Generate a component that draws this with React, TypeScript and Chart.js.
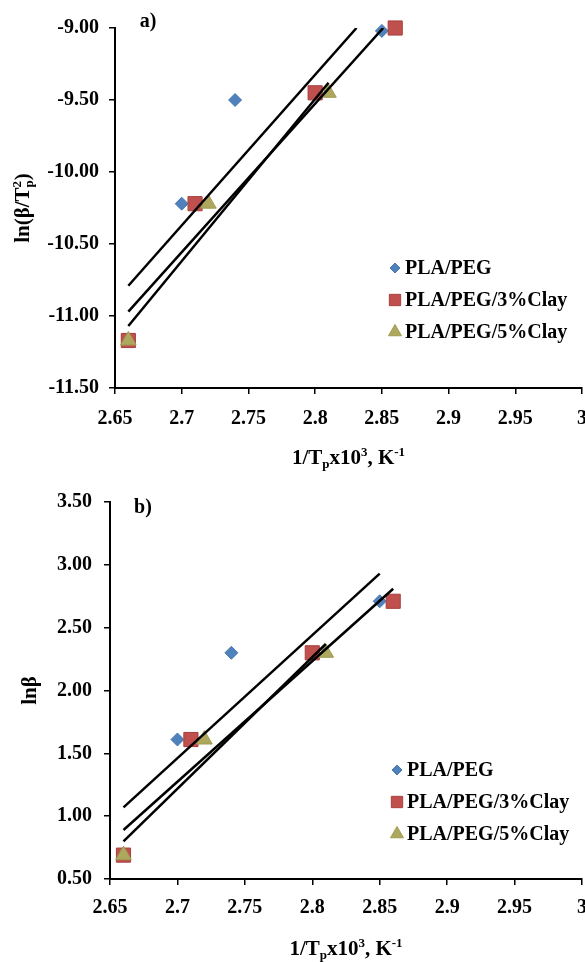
import React, { useEffect, useRef } from 'react';
import { Chart, registerables } from 'chart.js';
import { drawPoint } from 'chart.js/helpers';

Chart.register(...registerables);

const FONT = "'Liberation Serif', 'Times New Roman', serif";

const seriesNames = ['PLA/PEG', 'PLA/PEG/3%Clay', 'PLA/PEG/5%Clay'];
const seriesColors = ['#4F81BD', '#C0504D', '#ADA85D'];
const seriesBorders = ['#4A78AE', '#A5403D', '#A09B50'];
const seriesStyles = ['rectRot', 'rect', 'triangle'];

// 1/Tp x10^3 values
const xPEG = [2.66, 2.70, 2.74, 2.85];
const x3Clay = [2.66, 2.71, 2.80, 2.86];
const x5Clay = [2.66, 2.72, 2.81];

// panel a) ln(beta/Tp^2)
const aPEG = [-11.17, -10.22, -9.50, -9.02];
const a3Clay = [-11.17, -10.22, -9.45, -9.00];
const a5Clay = [-11.17, -10.22, -9.45];

// panel b) ln(beta)
const bPEG = [0.69, 1.61, 2.30, 2.71];
const b3Clay = [0.69, 1.61, 2.30, 2.71];
const b5Clay = [0.69, 1.61, 2.30];

// trend line end points [x, y]
const aTrendPEG = [[2.66, -10.79], [2.831, -9.0]];
const aTrend3Clay = [[2.66, -10.97], [2.851, -9.0]];
const aTrend5Clay = [[2.66, -11.07], [2.81, -9.38]];
const bTrendPEG = [[2.66, 1.07], [2.85, 2.93]];
const bTrend3Clay = [[2.66, 0.89], [2.86, 2.81]];
const bTrend5Clay = [[2.66, 0.80], [2.81, 2.37]];

// axis ticks
const xTicks = [2.65, 2.7, 2.75, 2.8, 2.85, 2.9, 2.95, 3];
const xTickLabels = ['2.65', '2.7', '2.75', '2.8', '2.85', '2.9', '2.95', '3'];
const aYTicks = [-11.5, -11.0, -10.5, -10.0, -9.5, -9.0];
const aYTickLabels = ['-11.50', '-11.00', '-10.50', '-10.00', '-9.50', '-9.00'];
const bYTicks = [0.5, 1.0, 1.5, 2.0, 2.5, 3.0, 3.5];
const bYTickLabels = ['0.50', '1.00', '1.50', '2.00', '2.50', '3.00', '3.50'];

type Seg = { t: string; s?: 'sub' | 'sup'; stack?: boolean };

const xTitle: Seg[] = [
  { t: '1/T' }, { t: 'p', s: 'sub' }, { t: 'x10' }, { t: '3', s: 'sup' }, { t: ', K' }, { t: '-1', s: 'sup' },
];
const aYTitle: Seg[] = [{ t: 'ln(β/T' }, { t: 'p', s: 'sub' }, { t: '2', s: 'sup', stack: true }, { t: ')' }];
const bYTitle: Seg[] = [{ t: 'lnβ' }];

function drawRich(ctx: CanvasRenderingContext2D, segs: Seg[], cx: number, cy: number, size: number, rotate: boolean) {
  ctx.save();
  ctx.translate(cx, cy);
  if (rotate) ctx.rotate(-Math.PI / 2);
  const small = Math.round(size * 0.64);
  const items: { t: string; x: number; y: number; f: number }[] = [];
  let cursor = 0;
  let prevStart = 0;
  for (const seg of segs) {
    const f = seg.s ? small : size;
    ctx.font = `bold ${f}px ${FONT}`;
    const w = ctx.measureText(seg.t).width;
    let x = cursor;
    if (seg.stack) {
      x = prevStart;
      cursor = Math.max(cursor, prevStart + w);
    } else {
      cursor += w;
    }
    prevStart = x;
    const base = size * 0.34;
    const y = seg.s === 'sub' ? base + size * 0.2 : seg.s === 'sup' ? base - size * 0.4 : base;
    items.push({ t: seg.t, x, y, f });
  }
  const off = -cursor / 2;
  ctx.fillStyle = '#000';
  ctx.textBaseline = 'alphabetic';
  ctx.textAlign = 'left';
  for (const it of items) {
    ctx.font = `bold ${it.f}px ${FONT}`;
    ctx.fillText(it.t, off + it.x, it.y);
  }
  ctx.restore();
}

const decorPlugin = {
  id: 'decor',
  afterDraw(chart: any, _args: any, opts: any) {
    const ctx: CanvasRenderingContext2D = chart.ctx;
    const area = chart.chartArea;
    // panel label
    ctx.save();
    ctx.font = `bold 20px ${FONT}`;
    ctx.fillStyle = '#000';
    ctx.textAlign = 'center';
    ctx.textBaseline = 'middle';
    ctx.fillText(opts.panel, opts.panelX, opts.panelY);
    ctx.restore();
    // axis titles
    drawRich(ctx, xTitle, (area.left + area.right) / 2, opts.xTitleY, 21, false);
    drawRich(ctx, opts.yTitle, opts.yTitleX, (area.top + area.bottom) / 2, 21, true);
    // legend
    const radii = [5, 8, 7.5];
    seriesNames.forEach((name, i) => {
      const y = opts.legendY[i];
      ctx.save();
      ctx.fillStyle = seriesColors[i];
      ctx.strokeStyle = seriesBorders[i];
      ctx.lineWidth = 1;
      drawPoint(ctx, { pointStyle: seriesStyles[i], rotation: 0, radius: radii[i], borderWidth: 1 } as any, opts.legendX, y);
      ctx.restore();
      ctx.save();
      ctx.font = `bold 20px ${FONT}`;
      ctx.fillStyle = '#000';
      ctx.textAlign = 'left';
      ctx.textBaseline = 'middle';
      ctx.fillText(name, opts.legendTextX, y + 1);
      ctx.restore();
    });
  },
};

type Panel = {
  xs: number[][];
  ys: number[][];
  trends: number[][][];
  yMin: number;
  yMax: number;
  yTicks: number[];
  yTickLabels: string[];
  top: number;
  yWidth: number;
  xHeight: number;
  yPad: number;
  xPad: number;
  decor: any;
};

function makeConfig(p: Panel): any {
  const pointRadii = [6.5, 10, 9];
  const datasets: any[] = [];
  p.trends.forEach((tr, i) => {
    datasets.push({
      label: 'trend ' + seriesNames[i],
      data: tr.map(([x, y]) => ({ x, y })),
      showLine: true,
      borderColor: '#000',
      borderWidth: 2.5,
      pointRadius: 0,
      order: 0,
    });
  });
  p.xs.forEach((xv, i) => {
    datasets.push({
      label: seriesNames[i],
      data: xv.map((x, j) => ({ x, y: p.ys[i][j] })),
      pointStyle: seriesStyles[i],
      pointRadius: pointRadii[i],
      pointHoverRadius: pointRadii[i],
      backgroundColor: seriesColors[i],
      borderColor: seriesBorders[i],
      borderWidth: 1,
      showLine: false,
      clip: false,
      order: 3 - i,
    });
  });
  const tickFont = { family: FONT, size: 20, weight: 'bold' };
  const grid = { drawOnChartArea: false, drawTicks: true, tickLength: 6, color: '#000', lineWidth: 1.5 };
  return {
    type: 'scatter',
    data: { datasets },
    options: {
      animation: false,
      responsive: false,
      devicePixelRatio: 1,
      layout: { autoPadding: false, padding: { left: 0, right: 3, top: p.top, bottom: 0 } },
      plugins: { legend: { display: false }, tooltip: { enabled: false }, decor: p.decor },
      scales: {
        x: {
          type: 'linear',
          min: 2.65,
          max: 3,
          afterBuildTicks: (s: any) => {
            s.ticks = xTicks.map((v) => ({ value: v }));
          },
          afterFit: (s: any) => {
            s.height = p.xHeight;
            s.paddingLeft = 0;
            s.paddingRight = 0;
          },
          ticks: {
            autoSkip: false,
            maxRotation: 0,
            padding: p.xPad,
            color: '#000',
            font: tickFont,
            callback: (_v: any, i: number) => xTickLabels[i],
          },
          grid,
          border: { display: true, color: '#000', width: 2 },
        },
        y: {
          type: 'linear',
          min: p.yMin,
          max: p.yMax,
          afterBuildTicks: (s: any) => {
            s.ticks = p.yTicks.map((v) => ({ value: v }));
          },
          afterFit: (s: any) => {
            s.width = p.yWidth;
            s.paddingTop = 0;
            s.paddingBottom = 0;
          },
          ticks: {
            autoSkip: false,
            padding: p.yPad,
            color: '#000',
            font: tickFont,
            callback: (_v: any, i: number) => p.yTickLabels[i],
          },
          grid,
          border: { display: true, color: '#000', width: 2 },
        },
      },
    },
    plugins: [decorPlugin],
  };
}

const panelA: Panel = {
  xs: [xPEG, x3Clay, x5Clay],
  ys: [aPEG, a3Clay, a5Clay],
  trends: [aTrendPEG, aTrend3Clay, aTrend5Clay],
  yMin: -11.5,
  yMax: -9.0,
  yTicks: aYTicks,
  yTickLabels: aYTickLabels,
  top: 28,
  yWidth: 115,
  xHeight: 93,
  yPad: 10,
  xPad: 13,
  decor: {
    panel: 'a)',
    panelX: 148,
    panelY: 22,
    xTitleY: 457,
    yTitle: aYTitle,
    yTitleX: 22,
    legendX: 395,
    legendTextX: 405,
    legendY: [268, 300, 332],
  },
};

const panelB: Panel = {
  xs: [xPEG, x3Clay, x5Clay],
  ys: [bPEG, b3Clay, b5Clay],
  trends: [bTrendPEG, bTrend3Clay, bTrend5Clay],
  yMin: 0.5,
  yMax: 3.5,
  yTicks: bYTicks,
  yTickLabels: bYTickLabels,
  top: 21,
  yWidth: 110,
  xHeight: 83,
  yPad: 12,
  xPad: 11,
  decor: {
    panel: 'b)',
    panelX: 143,
    panelY: 27,
    xTitleY: 467,
    yTitle: bYTitle,
    yTitleX: 29,
    legendX: 397,
    legendTextX: 407,
    legendY: [289, 321, 353],
  },
};

function ChartPanel({ panel }: { panel: Panel }) {
  const ref = useRef<HTMLCanvasElement>(null);
  useEffect(() => {
    if (!ref.current) return;
    const chart = new Chart(ref.current, makeConfig(panel));
    return () => chart.destroy();
  }, [panel]);
  return <canvas ref={ref} width={585} height={481} style={{ display: 'block', width: 585, height: 481 }} />;
}

export default function App() {
  useEffect(() => {
    document.body.style.margin = '0';
    document.body.style.background = '#fff';
  }, []);
  return (
    <div style={{ width: 585, height: 962, background: '#fff' }}>
      <ChartPanel panel={panelA} />
      <ChartPanel panel={panelB} />
    </div>
  );
}
